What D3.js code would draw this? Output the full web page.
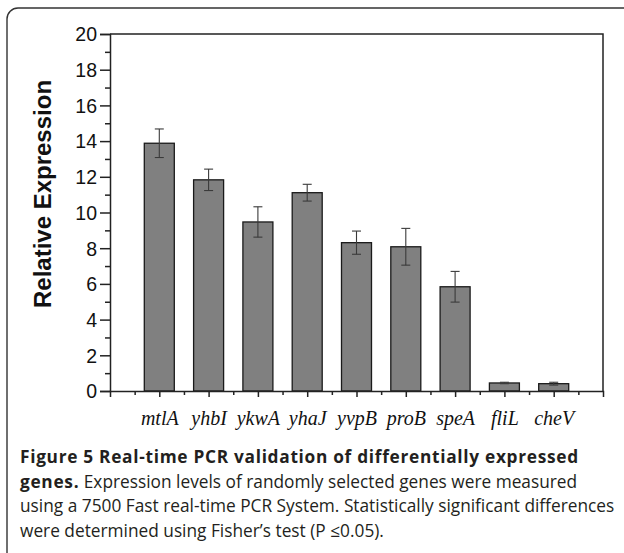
<!DOCTYPE html>
<html>
<head>
<meta charset="utf-8">
<script src="https://cdn.jsdelivr.net/npm/d3@7"></script>
<style>
  body { margin: 0; background: #fff; }
  svg { display: block; }
</style>
</head>
<body>
<svg width="624" height="553"></svg>
<script>
// Genes on the x axis
const genes = ["mtlA", "yhbI", "ykwA", "yhaJ", "yvpB", "proB", "speA", "fliL", "cheV"];

// Relative expression (bar heights)
const expression = [13.88, 11.83, 9.47, 11.11, 8.31, 8.08, 5.84, 0.45, 0.41];

// Error bar half-lengths
const errors = [0.8, 0.6, 0.85, 0.47, 0.65, 1.03, 0.86, 0.04, 0.08];

// y tick values
const yTicks = [0, 2, 4, 6, 8, 10, 12, 14, 16, 18, 20];

// Caption lines
const captionBold1 = "Figure 5 Real-time PCR validation of differentially expressed";
const captionBold2 = "genes.";
const captionLines = [
    " Expression levels of randomly selected genes were measured",
    "using a 7500 Fast real-time PCR System. Statistically significant differences",
    "were determined using Fisher\u2019s test (P \u22640.05)."
];

const svg = d3.select("svg");

// outer rounded frame (runs off the right and bottom edges)
svg.append("rect")
    .attr("x", 7).attr("y", 8)
    .attr("width", 640).attr("height", 570)
    .attr("rx", 11)
    .attr("fill", "none")
    .attr("stroke", "#333")
    .attr("stroke-width", 1.4);

const plot = { left: 110, right: 603, top: 34, bottom: 391 };

const x = d3.scaleLinear().domain([0, 10]).range([plot.left, plot.right]);
const y = d3.scaleLinear().domain([0, 20]).range([plot.bottom, plot.top]);

const g = svg.append("g");

// bars
g.selectAll("rect.bar")
    .data(genes)
    .join("rect")
    .attr("class", "bar")
    .attr("x", (d, i) => x(i + 1) - 15)
    .attr("width", 30)
    .attr("y", (d, i) => y(expression[i]))
    .attr("height", (d, i) => y(0) - y(expression[i]))
    .attr("fill", "#808080")
    .attr("stroke", "#1a1a1a")
    .attr("stroke-width", 1.3);

// error bars
const err = g.append("g")
    .attr("stroke", "#3a3a3a")
    .attr("stroke-width", 1.1);

genes.forEach((d, i) => {
    const cx = x(i + 1);
    const hi = y(expression[i] + errors[i]);
    const lo = y(expression[i] - errors[i]);
    err.append("line").attr("x1", cx).attr("x2", cx).attr("y1", hi).attr("y2", lo);
    err.append("line").attr("x1", cx - 4.5).attr("x2", cx + 4.5).attr("y1", hi).attr("y2", hi);
    err.append("line").attr("x1", cx - 4.5).attr("x2", cx + 4.5).attr("y1", lo).attr("y2", lo);
});

// frame top and right
g.append("path")
    .attr("d", `M${plot.left},${plot.top}H${plot.right}V${plot.bottom}`)
    .attr("fill", "none")
    .attr("stroke", "#222")
    .attr("stroke-width", 1.5);

// y axis, major ticks
const yAxis = g.append("g")
    .attr("transform", `translate(${plot.left},0)`)
    .call(d3.axisLeft(y).tickValues(yTicks).tickSize(10).tickPadding(3).tickFormat(d3.format("d")));
// y minor ticks
g.append("g")
    .attr("transform", `translate(${plot.left},0)`)
    .call(d3.axisLeft(y).tickValues(d3.range(1, 20, 2)).tickSize(5).tickFormat(""))
    .select(".domain").remove();

// x axis, major ticks (at genes)
const xAxis = g.append("g")
    .attr("transform", `translate(0,${plot.bottom})`)
    .call(d3.axisBottom(x).tickValues(d3.range(1, 10)).tickSize(6).tickPadding(10)
        .tickFormat(d => genes[d - 1]));
g.append("g")
    .attr("transform", `translate(0,${plot.bottom})`)
    .call(d3.axisBottom(x).tickValues(d3.range(0.5, 10, 1)).tickSize(4).tickFormat(""))
    .select(".domain").remove();

g.selectAll(".domain, .tick line")
    .attr("stroke", "#222")
    .attr("stroke-width", 1.5);

yAxis.selectAll("text")
    .attr("fill", "#111")
    .style("font-family", "'Liberation Sans', Arial, sans-serif")
    .style("font-size", "19.5px")
    .attr("dy", "0.35em");

xAxis.selectAll("text")
    .attr("fill", "#111")
    .attr("dy", "0.9em")
    .style("font-family", "'Liberation Serif', 'Times New Roman', serif")
    .style("font-style", "italic")
    .style("font-size", "20px");

// y axis title
svg.append("text")
    .attr("transform", "translate(51,194) rotate(-90)")
    .attr("text-anchor", "middle")
    .style("font-family", "'Liberation Sans', Arial, sans-serif")
    .style("font-weight", "bold")
    .style("font-size", "24px")
    .attr("fill", "#111")
    .text("Relative Expression");

// caption
const capFont = "'Open Sans', 'Noto Sans', sans-serif";
const capSize = 17.3;
const capX = 20;
const lineY = [463, 488, 512, 537];

svg.append("text")
    .attr("x", capX).attr("y", lineY[0])
    .style("font-family", capFont).style("font-size", capSize + "px").style("font-weight", "bold")
    .style("letter-spacing", "0.7px")
    .attr("fill", "#231f20")
    .text(captionBold1);

const l2 = svg.append("text")
    .attr("x", capX).attr("y", lineY[1])
    .style("font-family", capFont).style("font-size", capSize + "px")
    .attr("fill", "#231f20");
l2.append("tspan").style("font-weight", "bold").style("letter-spacing", "0.7px").text(captionBold2);
l2.append("tspan").text(captionLines[0]);

captionLines.slice(1).forEach((t, i) => {
    svg.append("text")
        .attr("x", capX).attr("y", lineY[i + 2])
        .style("font-family", capFont).style("font-size", capSize + "px")
        .attr("fill", "#231f20")
        .text(t);
});
</script>
</body>
</html>
